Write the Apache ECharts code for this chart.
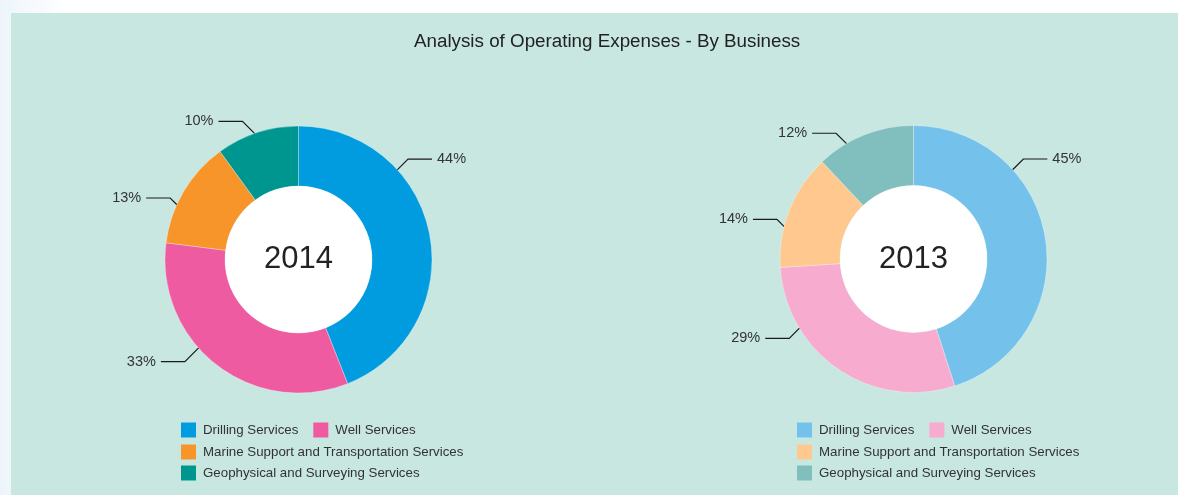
<!DOCTYPE html>
<html>
<head>
<meta charset="utf-8">
<title>Analysis of Operating Expenses - By Business</title>
<script src="https://cdn.jsdelivr.net/npm/echarts@6/dist/echarts.min.js"></script>
<style>
  html, body { margin: 0; padding: 0; width: 1178px; height: 495px; overflow: hidden; }
  body { background: linear-gradient(90deg, #edf5fb 0px, #ffffff 70px); position: relative; }
  #panel { position: absolute; left: 11px; top: 13px; right: 0; bottom: 0; background: #c8e7e1; }
  #chart { position: absolute; left: 0; top: 0; width: 1178px; height: 495px; }
</style>
</head>
<body>
<div id="panel"></div>
<div id="chart"></div>
<script>
// Business segments and their share of operating expenses (%)
const categories = [
  'Drilling Services',
  'Well Services',
  'Marine Support and Transportation Services',
  'Geophysical and Surveying Services'
];
const years = ['2014', '2013'];
const share2014 = [44, 33, 13, 10];
const share2013 = [45, 29, 14, 12];

// Segment colours for each year
const palette2014 = ['#009cdf', '#ef5ba1', '#f7952b', '#009690'];
const palette2013 = ['#74c2ec', '#f6abcf', '#fec88f', '#80bfbe'];

// Donut geometry (px)
const INNER_R = 73.5;
const OUTER_R = 133.5;
const donuts = [
  { year: years[0], values: share2014, colors: palette2014, center: [298.5, 259.5],
    // where each callout leaves the ring (degrees clockwise from 12 o'clock) and its diagonal run
    calloutAngles: [47.8, 228.5, 294.2, 340.9], calloutRise: [11, 14, 7, 12.5], legendLeft: 181 },
  { year: years[1], values: share2013, colors: palette2013, center: [913.5, 259],
    calloutAngles: [48, 238.8, 284, 329.9], calloutRise: [11, 10.5, 7.5, 10.7], legendLeft: 797 }
];

const FONT = '"Liberation Sans", Arial, Helvetica, sans-serif';

// Callout: 45-degree elbow from the ring edge, then a short horizontal run to the text
function calloutLayout(d) {
  return function (p) {
    const a = d.calloutAngles[p.dataIndex] * Math.PI / 180;
    const sx = Math.sin(a), sy = -Math.cos(a);
    const r = OUTER_R - 0.5;
    const ax = d.center[0] + r * sx, ay = d.center[1] + r * sy;
    const dx = sx >= 0 ? 1 : -1, dy = sy >= 0 ? 1 : -1;
    const t = d.calloutRise[p.dataIndex];
    const bx = ax + dx * t, by = ay + dy * t;
    const ex = bx + dx * 24;
    return {
      x: ex + dx * 5,
      y: by,
      align: dx > 0 ? 'left' : 'right',
      verticalAlign: 'middle',
      labelLinePoints: [[ax, ay], [bx, by], [ex, by]]
    };
  };
}

const series = [];
const legends = [];

donuts.forEach(function (d) {
  series.push({
    type: 'pie',
    center: d.center,
    radius: [INNER_R, OUTER_R],
    startAngle: 90,
    clockwise: true,
    avoidLabelOverlap: false,
    itemStyle: { borderColor: 'rgba(255,255,255,0.6)', borderWidth: 0.5 },
    label: {
      show: true,
      position: 'outside',
      formatter: '{c}%',
      fontFamily: FONT,
      fontSize: 14.5,
      color: '#333'
    },
    labelLine: { show: true, lineStyle: { color: '#1a1a1a', width: 1.2 } },
    labelLayout: calloutLayout(d),
    emphasis: { disabled: true },
    data: categories.map(function (name, i) {
      return { name: name, value: d.values[i], itemStyle: { color: d.colors[i] } };
    })
  });

  // white hub carrying the year
  series.push({
    type: 'pie',
    center: d.center,
    radius: [0, INNER_R],
    silent: true,
    emphasis: { disabled: true },
    itemStyle: { color: '#ffffff' },
    label: {
      show: true,
      position: 'center',
      formatter: '{b}',
      fontFamily: FONT,
      fontSize: 31,
      color: '#222'
    },
    labelLine: { show: false },
    data: [{ name: d.year, value: 1 }]
  });

  const rows = [[0, 1], [2], [3]];
  const rowTops = [422.5, 444.5, 465.5];
  rows.forEach(function (row, k) {
    legends.push({
      left: d.legendLeft,
      top: rowTops[k],
      orient: 'horizontal',
      padding: 0,
      itemGap: 15,
      itemWidth: 15,
      itemHeight: 15,
      icon: 'rect',
      textStyle: { fontFamily: FONT, fontSize: 13.3, color: '#333', padding: [0, 0, 0, 2] },
      data: row.map(function (i) {
        return { name: categories[i], icon: 'rect', itemStyle: { color: d.colors[i], borderWidth: 0 } };
      })
    });
  });
});

const chart = echarts.init(document.getElementById('chart'), null, { renderer: 'canvas' });
chart.setOption({
  backgroundColor: 'transparent',
  animation: false,
  title: {
    text: 'Analysis of Operating Expenses - By Business',
    left: 414,
    top: 32,
    padding: 0,
    textStyle: { fontFamily: FONT, fontSize: 18.8, fontWeight: 'normal', color: '#222' }
  },
  legend: legends,
  series: series
});
</script>
</body>
</html>
